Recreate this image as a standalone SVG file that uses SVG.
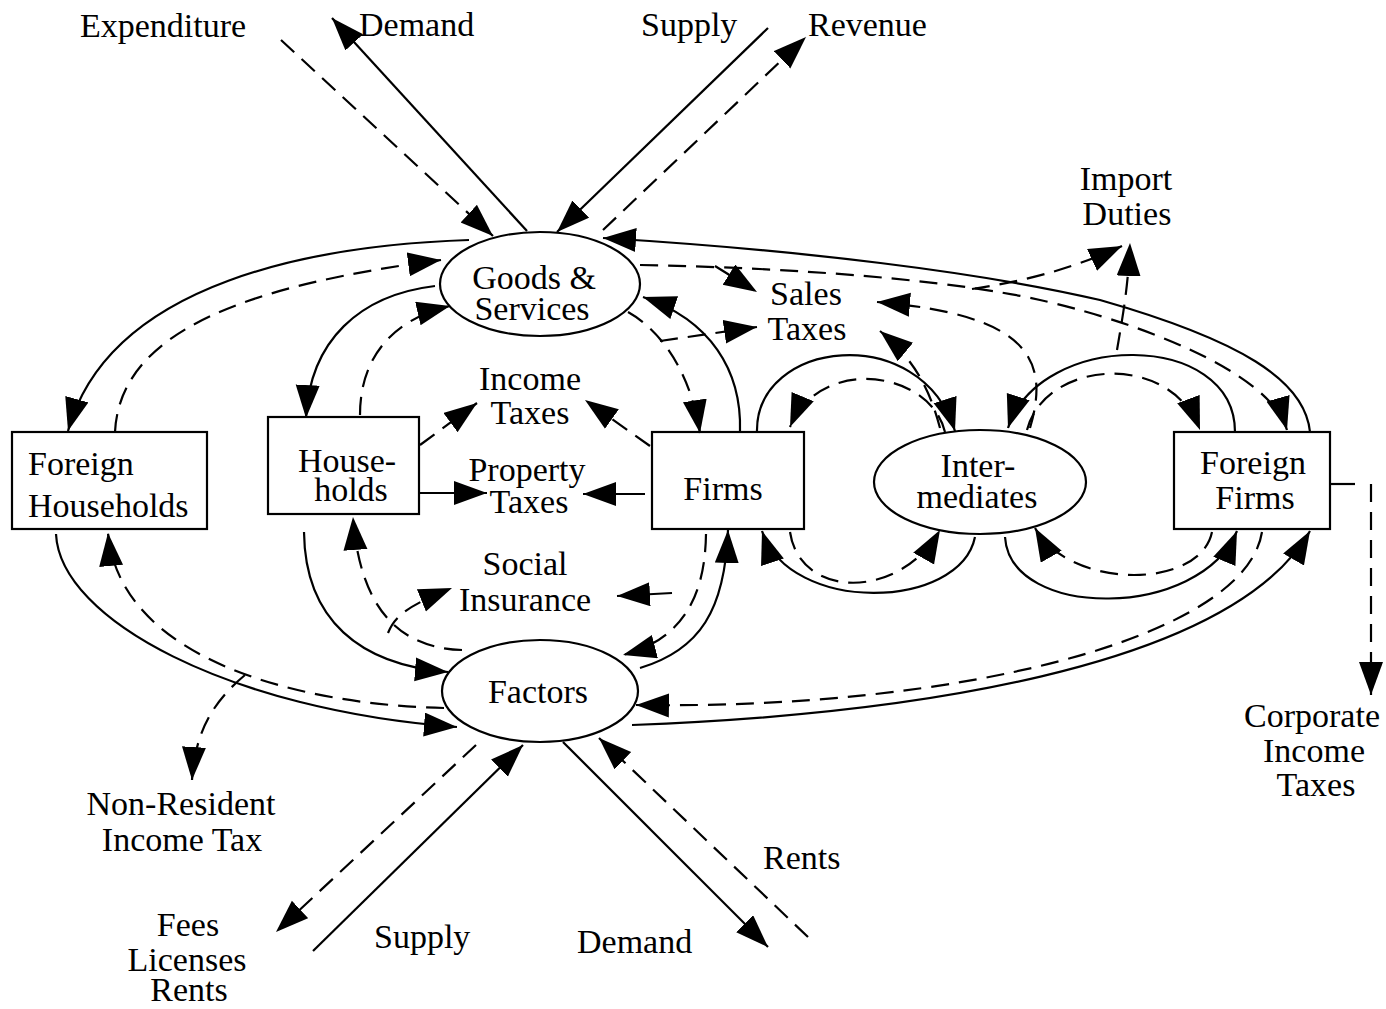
<svg xmlns="http://www.w3.org/2000/svg" width="1386" height="1009" viewBox="0 0 1386 1009">
<style>
.n{fill:#fff;stroke:#000;stroke-width:2.2}
.t{font-family:"Liberation Serif","Times New Roman",serif;font-size:34px;fill:#000}
.m{text-anchor:middle}
.s{fill:none;stroke:#000;stroke-width:2.2}
.d{fill:none;stroke:#000;stroke-width:2.2;stroke-dasharray:18 10}
</style>
<defs>
<marker id="a" markerUnits="userSpaceOnUse" markerWidth="36" markerHeight="26" refX="33" refY="12" orient="auto"><path d="M0,0 L33,12 L0,24 Z" fill="#000"/></marker>
</defs>
<rect width="1386" height="1009" fill="#fff"/>

<g id="goods-services"><ellipse class="n" cx="540" cy="284" rx="100" ry="52"/><text class="t m" x="534" y="289">Goods &amp;</text><text class="t m" x="532" y="320">Services</text></g>
<g id="factors"><ellipse class="n" cx="540" cy="691" rx="98" ry="51"/><text class="t m" x="538" y="703">Factors</text></g>
<g id="intermediates"><ellipse class="n" cx="980" cy="482" rx="106" ry="52"/><text class="t m" x="978" y="477">Inter-</text><text class="t m" x="977" y="508">mediates</text></g>
<g id="foreign-households"><rect class="n" x="12" y="432" width="195" height="97"/><text class="t" x="28" y="475">Foreign</text><text class="t" x="28" y="517">Households</text></g>
<g id="households"><rect class="n" x="268" y="417" width="151" height="97"/><text class="t m" x="347" y="472">House-</text><text class="t m" x="351" y="501">holds</text></g>
<g id="firms"><rect class="n" x="652" y="432" width="152" height="97"/><text class="t m" x="723" y="500">Firms</text></g>
<g id="foreign-firms"><rect class="n" x="1174" y="432" width="156" height="97"/><text class="t m" x="1253" y="474">Foreign</text><text class="t m" x="1255" y="509">Firms</text></g>

<g id="labels">
<text class="t" x="80" y="37">Expenditure</text>
<text class="t" x="359" y="36">Demand</text>
<text class="t" x="641" y="36">Supply</text>
<text class="t" x="808" y="36">Revenue</text>
<text class="t m" x="1126" y="190">Import</text>
<text class="t m" x="1127" y="225">Duties</text>
<text class="t m" x="806" y="305">Sales</text>
<text class="t m" x="807" y="340">Taxes</text>
<text class="t m" x="530" y="390">Income</text>
<text class="t m" x="530" y="424">Taxes</text>
<text class="t m" x="527" y="481">Property</text>
<text class="t m" x="529" y="513">Taxes</text>
<text class="t m" x="525" y="575">Social</text>
<text class="t m" x="525" y="611">Insurance</text>
<text class="t m" x="1312" y="727">Corporate</text>
<text class="t m" x="1314" y="762">Income</text>
<text class="t m" x="1316" y="796">Taxes</text>
<text class="t m" x="181" y="815">Non-Resident</text>
<text class="t m" x="182" y="851">Income Tax</text>
<text class="t" x="763" y="869">Rents</text>
<text class="t m" x="188" y="936">Fees</text>
<text class="t m" x="187" y="971">Licenses</text>
<text class="t m" x="189" y="1001">Rents</text>
<text class="t" x="374" y="948">Supply</text>
<text class="t" x="577" y="953">Demand</text>
</g>

<g id="connectors" marker-end="url(#a)">
<path class="d" d="M281,40 L493,236"/>
<path class="s" d="M527,231 L332,18"/>
<path class="s" d="M768,28 L557,232"/>
<path class="d" d="M603,230 L806,37"/>
<path class="d" d="M476,745 L276,932"/>
<path class="s" d="M313,951 L523,745"/>
<path class="s" d="M563,742 L768,947"/>
<path class="d" d="M808,937 L599,738"/>

<path class="s" d="M469,240 C320,245 110,280 68,431"/>
<path class="d" d="M115,432 C120,330 250,285 441,260"/>
<path class="s" d="M56,534 C60,620 230,710 457,727"/>
<path class="d" d="M444,708 C300,705 120,660 108,533"/>
<path class="d" d="M245,675 C215,700 195,730 192,780"/>

<path class="s" d="M435,286 C360,295 310,340 306,418"/>
<path class="d" d="M360,415 C360,360 390,320 450,306"/>
<path class="s" d="M304,532 C305,620 360,665 448,672"/>
<path class="d" d="M462,650 C400,648 360,610 353,517"/>
<path class="d" d="M388,633 C395,615 410,605 452,588"/>

<path class="d" d="M420,445 L477,403"/>
<path class="s" d="M420,493 L487,493"/>
<path class="d" d="M650,446 L585,400"/>
<path class="s" d="M645,494 L583,494"/>
<path class="s" d="M672,593 L617,596"/>

<path class="d" d="M628,312 C660,330 690,370 700,433"/>
<path class="s" d="M740,432 C742,370 710,320 643,297"/>
<path class="d" d="M660,341 L757,327"/>
<path class="d" d="M715,266 L757,292"/>

<path class="d" d="M706,534 C705,600 680,640 623,655"/>
<path class="s" d="M640,668 C700,650 725,610 728,530"/>

<path class="s" d="M757,432 C755,340 920,320 955,431"/>
<path class="d" d="M945,432 C930,370 820,355 790,427"/>
<path class="d" d="M940,428 C930,390 915,360 880,331"/>

<path class="s" d="M1235,432 C1235,330 1040,330 1008,428"/>
<path class="d" d="M1027,430 C1045,360 1170,350 1200,430"/>
<path class="d" d="M1030,428 C1050,360 1030,315 877,302"/>
<path class="d" d="M1117,350 C1122,320 1128,290 1130,243"/>
<path class="d" d="M972,289 C1020,282 1070,270 1122,246"/>

<path class="s" d="M1310,432 C1305,380 1240,340 1100,300 C980,272 800,250 603,238"/>
<path class="d" d="M640,265 C800,268 950,280 1040,300 C1130,320 1270,370 1287,430"/>

<path class="s" d="M975,537 C960,610 790,615 762,531"/>
<path class="d" d="M790,532 C800,600 900,600 940,530"/>
<path class="s" d="M1005,537 C1010,620 1200,620 1237,531"/>
<path class="d" d="M1212,532 C1200,590 1070,590 1035,528"/>

<path class="d" d="M1262,532 C1245,640 950,710 636,705"/>
<path class="s" d="M632,725 C900,715 1230,670 1310,531"/>

<path class="s" d="M1330,484 L1355,484" marker-end="none"/>
<path class="d" d="M1371,484 L1371,695"/>
</g>
</svg>
